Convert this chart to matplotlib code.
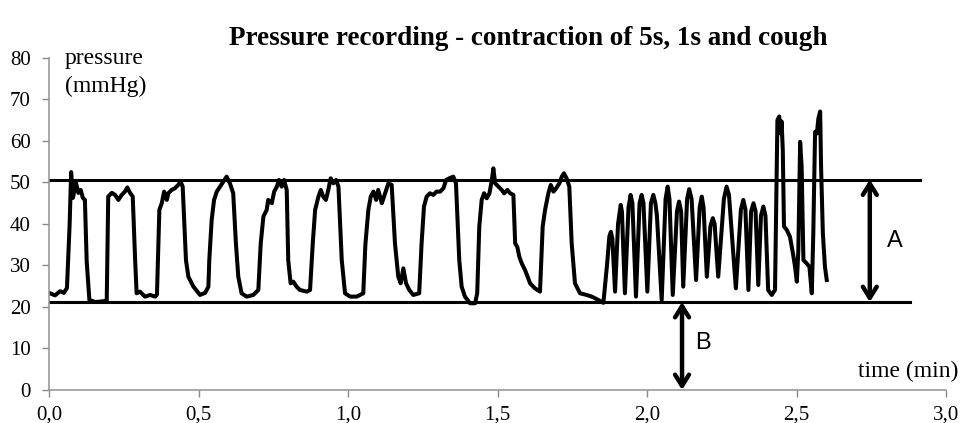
import matplotlib.pyplot as plt
from matplotlib.ticker import FuncFormatter

# recording (time in min, pressure in mmHg)
time_min = [
    0.000, 0.020, 0.037, 0.050, 0.060, 0.069, 0.074, 0.080, 0.090, 0.098,
    0.106, 0.113, 0.120, 0.126, 0.135, 0.154, 0.171, 0.193, 0.198, 0.210,
    0.221, 0.232, 0.243, 0.254, 0.262, 0.271, 0.280, 0.288, 0.293, 0.304,
    0.321, 0.338, 0.355, 0.361, 0.369, 0.377, 0.385, 0.394, 0.399, 0.410,
    0.421, 0.432, 0.440, 0.447, 0.458, 0.466, 0.483, 0.505, 0.522, 0.533,
    0.536, 0.544, 0.552, 0.561, 0.572, 0.583, 0.594, 0.605, 0.616, 0.625,
    0.633, 0.644, 0.661, 0.683, 0.700, 0.708, 0.717, 0.728, 0.733, 0.745,
    0.753, 0.762, 0.769, 0.778, 0.786, 0.795, 0.800, 0.808, 0.817, 0.828,
    0.839, 0.862, 0.873, 0.882, 0.890, 0.901, 0.909, 0.917, 0.926, 0.934,
    0.942, 0.951, 0.960, 0.968, 0.979, 0.990, 1.007, 1.029, 1.051, 1.058,
    1.068, 1.076, 1.085, 1.094, 1.101, 1.113, 1.124, 1.135, 1.146, 1.157,
    1.168, 1.176, 1.185, 1.194, 1.205, 1.218, 1.238, 1.246, 1.254, 1.263,
    1.274, 1.285, 1.296, 1.308, 1.319, 1.328, 1.339, 1.352, 1.361, 1.372,
    1.380, 1.391, 1.408, 1.425, 1.432, 1.439, 1.447, 1.455, 1.464, 1.473,
    1.481, 1.486, 1.492, 1.503, 1.514, 1.522, 1.533, 1.542, 1.553, 1.559,
    1.566, 1.573, 1.581, 1.592, 1.609, 1.625, 1.642, 1.651, 1.659, 1.670,
    1.678, 1.687, 1.696, 1.707, 1.715, 1.722, 1.731, 1.740, 1.748, 1.759,
    1.776, 1.798, 1.815, 1.837, 1.854,
    # 1 s contractions
    1.866, 1.874, 1.879, 1.884, 1.893, 1.903, 1.912, 1.916, 1.926, 1.938,
    1.945, 1.951, 1.963, 1.975, 1.982, 1.988, 2.001, 2.013, 2.021, 2.028,
    2.033, 2.049, 2.062, 2.069, 2.075, 2.086, 2.100, 2.107, 2.114, 2.121,
    2.134, 2.141, 2.149, 2.164, 2.176, 2.183, 2.189, 2.200, 2.212, 2.220,
    2.226, 2.238, 2.257, 2.266, 2.274, 2.297, 2.314, 2.322, 2.329, 2.339,
    2.348, 2.356, 2.363, 2.372, 2.381, 2.389, 2.396, 2.405, 2.417, 2.428,
    # cough
    2.436, 2.442, 2.447, 2.450, 2.454, 2.458, 2.467, 2.478, 2.488, 2.495,
    2.501, 2.506, 2.512, 2.517, 2.523, 2.534, 2.543, 2.551, 2.556, 2.562,
    2.568, 2.573, 2.579, 2.582, 2.588, 2.595, 2.601,
]
pressure = [
    23.4, 22.8, 23.8, 23.4, 24.6, 40.0, 52.5, 46.3, 50.0, 47.5,
    48.2, 46.3, 45.8, 31.0, 21.7, 21.2, 21.3, 21.5, 46.6, 47.5,
    47.0, 45.8, 47.0, 47.8, 48.8, 47.5, 46.6, 31.3, 23.3, 23.7,
    22.5, 22.9, 22.5, 23.0, 43.4, 45.0, 47.8, 45.8, 47.4, 48.2,
    48.6, 49.4, 50.2, 49.0, 31.3, 27.3, 24.9, 22.9, 23.4, 24.9,
    31.3, 41.0, 45.8, 47.8, 49.0, 50.2, 51.4, 49.8, 47.4, 35.4,
    27.3, 23.3, 22.5, 22.9, 24.1, 35.3, 41.8, 43.4, 45.8, 45.0,
    47.8, 49.0, 50.6, 49.0, 50.6, 48.2, 31.3, 25.7, 26.1, 24.9,
    24.1, 23.7, 24.1, 35.3, 43.4, 46.6, 48.2, 46.6, 45.8, 48.2,
    51.0, 49.8, 50.6, 49.0, 31.3, 23.3, 22.5, 22.5, 23.3, 35.0,
    43.4, 46.6, 47.8, 45.8, 48.2, 45.0, 47.4, 49.8, 49.4, 35.3,
    27.3, 25.7, 29.3, 25.7, 24.1, 22.9, 23.3, 35.3, 44.2, 46.6,
    47.4, 47.0, 47.8, 47.8, 48.6, 50.6, 51.0, 51.4, 49.8, 31.3,
    24.9, 22.5, 20.9, 20.9, 23.3, 39.4, 45.8, 47.4, 46.2, 47.4,
    50.6, 53.4, 49.8, 49.0, 48.2, 47.4, 48.2, 47.4, 47.0, 35.3,
    34.5, 32.1, 30.5, 28.9, 25.7, 24.5, 23.7, 39.4, 43.4, 47.4,
    49.4, 47.8, 48.6, 49.8, 51.4, 52.2, 51.0, 49.0, 35.3, 25.7,
    23.3, 22.9, 22.5, 21.7, 21.0,
    30.0, 37.0, 38.1, 36.5, 23.7, 40.0, 44.6, 43.0, 23.3, 44.0,
    47.0, 45.0, 22.5, 45.0, 47.0, 45.0, 23.7, 45.0, 47.0, 45.0,
    42.0, 21.7, 46.0, 49.0, 46.0, 22.9, 43.0, 45.4, 43.0, 24.9,
    46.0, 48.4, 46.0, 26.5, 44.0, 46.6, 44.0, 27.3, 39.5, 41.4,
    40.0, 27.3, 46.0, 49.0, 47.0, 24.5, 43.5, 45.8, 43.5, 24.1,
    43.0, 45.0, 43.0, 25.3, 42.0, 44.2, 42.0, 24.1, 22.9, 24.1,
    65.0, 65.9, 61.8, 64.7, 57.8, 39.4, 38.6, 36.9, 32.9, 29.7,
    26.1, 33.7, 59.8, 53.8, 31.3, 30.5, 29.7, 23.3, 37.7, 62.2,
    61.8, 65.4, 67.1, 53.8, 37.7, 29.7, 26.5,
]

upper_level = 50.7
lower_level = 21.2
level_end = [2.913, 2.880]
arrow_a_x = 2.745
arrow_b_x = 2.117
x_ticks = [0.0, 0.5, 1.0, 1.5, 2.0, 2.5, 3.0]
y_ticks = [0, 10, 20, 30, 40, 50, 60, 70, 80]

plt.rcParams['font.family'] = ['Liberation Serif', 'DejaVu Serif']

fig = plt.figure(figsize=(9.63, 4.23), dpi=100)
ax = fig.add_axes([0.0509, 0.078, 0.9315, 0.785])

ax.plot(time_min, pressure, color='black', lw=2.9, solid_joinstyle='round')
ax.plot([0, level_end[0]], [upper_level, upper_level], color='black', lw=2.2)
ax.plot([0, level_end[1]], [lower_level, lower_level], color='black', lw=2.2)

arrow = dict(arrowstyle='<->,head_length=0.8,head_width=0.5', lw=3.2,
             color='black', shrinkA=0, shrinkB=0)
ax.annotate('', xy=(arrow_a_x, lower_level), xytext=(arrow_a_x, upper_level),
            arrowprops=arrow)
ax.annotate('', xy=(arrow_b_x, 0), xytext=(arrow_b_x, lower_level),
            arrowprops=arrow)
ax.text(2.83, 36.0, 'A', fontsize=17, family='Liberation Sans', ha='center', va='center')
ax.text(2.187, 11.3, 'B', fontsize=17, family='Liberation Sans', ha='center', va='center')

ax.text(3.04, 4.4, 'time (min)', fontsize=17, ha='right', va='center')
ax.text(0.053, 82.5, 'pressure\n(mmHg)', fontsize=17, ha='left', va='top', linespacing=1.45)

ax.set_xlim(0, 3.0)
ax.set_ylim(0, 80)
ax.set_xticks(x_ticks)
ax.set_yticks(y_ticks)
ax.xaxis.set_major_formatter(FuncFormatter(lambda v, p: f'{v:.1f}'.replace('.', ',')))
ax.tick_params(axis='both', colors='#888888', labelcolor='black', labelsize=15,
               direction='out', length=5, width=1)
ax.tick_params(axis='y', pad=8)
ax.tick_params(axis='x', pad=6)
for s in ['top', 'right']:
    ax.spines[s].set_visible(False)
for s in ['left', 'bottom']:
    ax.spines[s].set_color('#999999')
    ax.spines[s].set_linewidth(1.2)

fig.text(0.548, 0.91, 'Pressure recording - contraction of 5s, 1s and cough',
         fontsize=19.5, fontweight='bold', ha='center', va='center')

fig.savefig('out.png', dpi=100)
